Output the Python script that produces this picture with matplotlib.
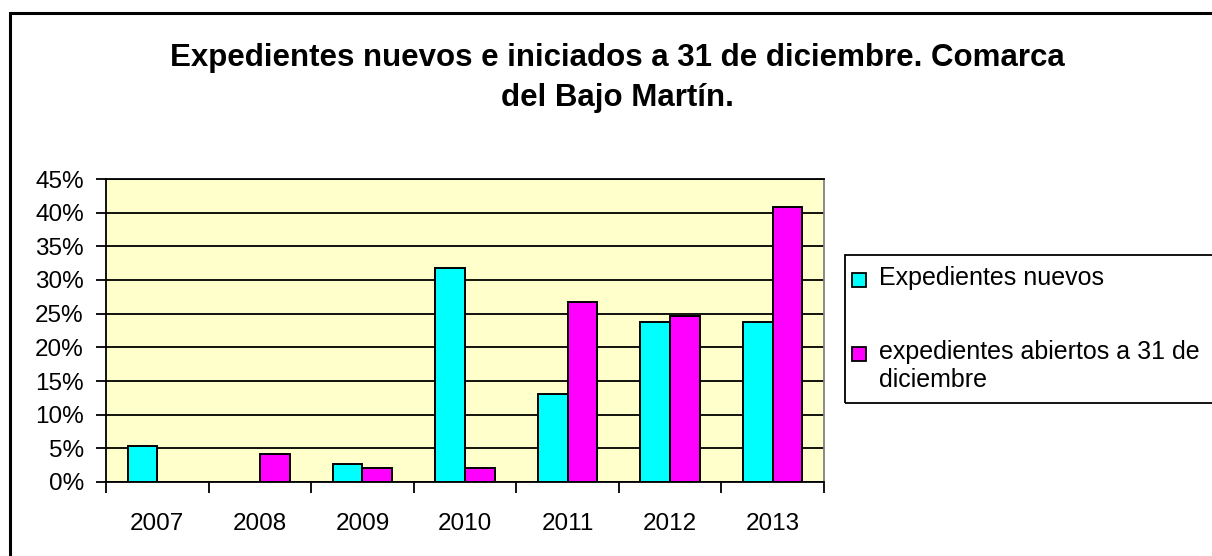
import matplotlib.pyplot as plt
from matplotlib.patches import Rectangle
import numpy as np

######################################################
# Data
######################################################

YEARS = ['2007', '2008', '2009', '2010', '2011', '2012', '2013']
NUEVOS = [5.3, 0.0, 2.7, 31.8, 13.1, 23.8, 23.8]
ABIERTOS = [0.0, 4.2, 2.1, 2.1, 26.8, 24.7, 40.8]
LABELS = ['Expedientes nuevos', 'expedientes abiertos a 31 de\ndiciembre']
COLORS = ['#00FFFF', '#FF00FF']
TITLE = 'Expedientes nuevos e iniciados a 31 de diciembre. Comarca\ndel Bajo Martín.'

W, H = 1212, 556
plt.rcParams['font.family'] = ['Liberation Sans', 'DejaVu Sans']


def px(x, y):
    # pixel position -> figure fraction
    return x / W, 1 - y / H


fig = plt.figure(figsize=(W / 100, H / 100), dpi=100)

# outer chart frame (runs off the right and bottom edges)
fig.patches.append(Rectangle((10 / W, -0.05), 1.2, 1 - 13 / H + 0.05,
                             transform=fig.transFigure, fill=False,
                             edgecolor='black', linewidth=2.2))

ax = fig.add_axes([106 / W, 1 - 482 / H, (824 - 106) / W, (482 - 179) / H])
ax.set_facecolor('#FFFFCC')

x = np.arange(len(YEARS))
bw = 0.29
ax.bar(x - bw / 2, NUEVOS, bw, color=COLORS[0], edgecolor='black',
       linewidth=1.4, zorder=3)
ax.bar(x + bw / 2, ABIERTOS, bw, color=COLORS[1], edgecolor='black',
       linewidth=1.4, zorder=3)

ax.set_xlim(-0.5, len(YEARS) - 0.5)
ax.set_ylim(0, 45)
ax.set_yticks(np.arange(0, 46, 5))
ax.set_yticklabels(['{}%'.format(v) for v in range(0, 46, 5)])
ax.yaxis.grid(True, color='black', linewidth=1.3, zorder=1)
ax.set_axisbelow(True)

ax.set_xticks(x)
ax.set_xticklabels(YEARS)
ax.set_xticks(np.arange(-0.5, len(YEARS)), minor=True)
ax.tick_params(axis='x', which='major', length=0, pad=22, labelsize=17.5)
ax.tick_params(axis='x', which='minor', length=8, width=1.3, direction='out')
ax.tick_params(axis='y', length=7, width=1.3, pad=9, labelsize=17.5)

for s in ['left', 'bottom', 'top']:
    ax.spines[s].set_color('black')
    ax.spines[s].set_linewidth(1.3)
ax.spines['right'].set_color('#808080')
ax.spines['right'].set_linewidth(1.3)

fig.text(*px(617, 43), TITLE, ha='center', va='top',
         fontsize=22.5, fontweight='bold', linespacing=1.42)

######################################################
# Legend (box runs off the right edge)
######################################################

lx, ly = px(845, 403)
fig.patches.append(Rectangle((lx, ly), 0.5, (403 - 255) / H,
                             transform=fig.transFigure, fill=False,
                             edgecolor='black', linewidth=1.3))
for i, (lab, col) in enumerate(zip(LABELS, COLORS)):
    yc = 280 + 74 * i
    sx, sy = px(852, yc + 7)
    fig.patches.append(Rectangle((sx, sy), 14 / W, 14 / H,
                                 transform=fig.transFigure, facecolor=col,
                                 edgecolor='black', linewidth=1.3))
    fig.text(*px(879, yc - 14), lab, ha='left', va='top', fontsize=18,
             linespacing=1.2)

fig.savefig('out.png', dpi=100)
